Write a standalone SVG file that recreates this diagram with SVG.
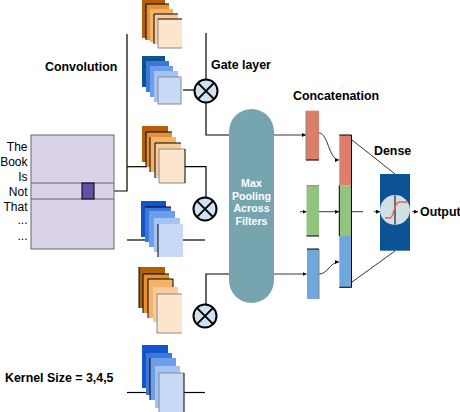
<svg xmlns="http://www.w3.org/2000/svg" width="460" height="412" viewBox="0 0 460 412">
<style>
text{font-family:"Liberation Sans",Arial,sans-serif;fill:#000}
.lbl{font-size:12.4px;font-weight:bold}
.word{font-size:12px;text-anchor:end}
.pool{font-size:10.7px;font-weight:bold;fill:#fff;text-anchor:middle}
.ln{fill:none;stroke:#000;stroke-width:1.2}
.thin{fill:none;stroke:#000;stroke-width:0.8}
.o1{fill:#B45F06}.o2{fill:#E69138}.o3{fill:#F6B26B}.o4{fill:#F9CB9C}.o5{fill:#FCE5CD}
.b0{fill:#0B5394}.b1{fill:#1155CC}.b2{fill:#3C78D8}.b3{fill:#6D9EEB}.b4{fill:#A4C2F4}.b5{fill:#C9DAF8}
.edge{fill:none;stroke:#000;stroke-width:1}
.gedge{fill:none;stroke:#888;stroke-width:1}
.gate circle{fill:#CFE2F3;stroke:#000;stroke-width:2}
.gate path{stroke:#000;stroke-width:2}
</style>
<defs>
<marker id="ah" viewBox="0 0 6 6" refX="6" refY="3" markerWidth="4" markerHeight="4" orient="auto" markerUnits="userSpaceOnUse">
<path d="M0,0 L6,3 L0,6 z" fill="#000"/>
</marker>
</defs>

<g id="connectors">
<path class="ln" d="M127,34 V191 H114"/>
<path class="ln" d="M127,166.7 H147"/>
<path class="ln" d="M127,240 H146"/>
<path class="ln" d="M127,392.5 H146"/>
<path class="ln" d="M183,90 H194"/>
<path class="ln" d="M206,33 V79"/>
<path class="ln" d="M206,103 V135 H230"/>
<path class="ln" d="M184,166.7 H206 V197"/>
<path class="ln" d="M183,240 H205"/>
<path class="ln" d="M206,304 V274 H230"/>
<path class="ln" d="M183,392.5 H205"/>
<path class="thin" d="M274,135 H306" marker-end="url(#ah)"/>
<path class="thin" d="M300,211.7 H306.5" marker-end="url(#ah)"/>
<path class="thin" d="M274,274 H306.5" marker-end="url(#ah)"/>
<path class="thin" d="M319,133 C328,133 329,160 339,160" marker-end="url(#ah)"/>
<path class="thin" stroke="#666" d="M319,211.7 H339" marker-end="url(#ah)"/>
<path class="thin" d="M319,274 C328,274 330,262 339,262" marker-end="url(#ah)"/>
<path class="thin" d="M352,140 L395,174"/>
<path class="thin" d="M352,282 L395,251"/>
<path class="thin" stroke="#888" d="M352,211.7 H363"/>
<path class="thin" d="M374,211.7 H380" marker-end="url(#ah)"/>
<path class="thin" d="M412,211.7 H418" marker-end="url(#ah)"/>
</g>

<g id="input-matrix">
<rect x="31" y="135" width="83" height="114" fill="#D9D2E9" stroke="#666" stroke-width="1"/>
<line x1="31" y1="183" x2="114" y2="183" stroke="#666" stroke-width="1"/>
<line x1="31" y1="199" x2="114" y2="199" stroke="#666" stroke-width="1"/>
<rect x="82" y="183" width="12" height="16" fill="#674EA7" stroke="#000" stroke-width="1"/>
<text class="word" x="27.5" y="150.7">The</text>
<text class="word" x="27.5" y="166">Book</text>
<text class="word" x="27.5" y="181.3">Is</text>
<text class="word" x="27.5" y="196">Not</text>
<text class="word" x="27.5" y="211">That</text>
<text class="word" x="27.5" y="224">...</text>
<text class="word" x="27.5" y="239.5">...</text>
</g>

<g id="conv-top-orange">
<rect class="o1" x="142" y="-1" width="23" height="39"/>
<rect class="o2" x="146" y="4" width="23" height="36"/>
<path class="edge" d="M146,40 V4 H169"/>
<rect class="o3" x="150" y="9" width="23" height="33"/>
<rect class="o4" x="154" y="14" width="24" height="30"/>
<path class="edge" d="M154,44 V14 H178"/>
<rect class="o5" x="158" y="19" width="24" height="29"/>
<path class="gedge" d="M182,48 H158 V19"/>
<path class="edge" d="M158,19 H182"/>
</g>

<g id="conv-top-blue">
<rect class="b0" x="142" y="56" width="23" height="31"/>
<rect class="b2" x="146" y="61" width="23" height="31"/>
<rect class="b3" x="150" y="66" width="23" height="31"/>
<rect class="b4" x="154" y="71" width="24" height="31"/>
<rect class="b5" x="158" y="77" width="23" height="27"/>
<rect class="gedge" x="158" y="77" width="23" height="27"/>
</g>

<g id="conv-mid-orange">
<rect class="o1" x="142" y="126" width="26" height="36"/>
<rect class="o2" x="146" y="132" width="26" height="35"/>
<path class="edge" d="M146,167 V132 H172"/>
<rect class="o3" x="150" y="137" width="26" height="35"/>
<path class="edge" d="M150,172 V137"/>
<rect class="o4" x="155" y="143" width="26" height="35"/>
<path class="edge" d="M155,178 V143 H181"/>
<rect class="o5" x="159" y="149" width="26" height="34"/>
<path class="gedge" d="M185,183 H159 V149 H185"/>
<path class="edge" d="M185,149 V183"/>
</g>

<g id="conv-mid-blue">
<rect class="b1" x="141" y="201" width="25" height="36"/>
<rect class="b2" x="145" y="207" width="26" height="35"/>
<path class="edge" d="M145,207 H171"/>
<rect class="b3" x="149" y="211" width="26" height="36"/>
<rect class="b4" x="154" y="218" width="26" height="34"/>
<rect class="b5" x="158" y="224" width="25" height="33"/>
<path class="edge" d="M158,224 V257"/>
</g>

<g id="conv-bot-orange">
<rect class="o1" x="139" y="267" width="26" height="41"/>
<path class="edge" d="M139,308 V267"/>
<rect class="o2" x="143" y="274" width="26" height="39"/>
<path class="edge" d="M143,313 V274 H169"/>
<rect class="o3" x="148" y="279" width="25" height="39"/>
<path class="edge" d="M148,318 V279 H173 V287"/>
<rect class="o4" x="153" y="287" width="25" height="35"/>
<rect class="o5" x="157" y="294" width="25" height="39"/>
<path class="gedge" d="M182,333 H157 V294 H182"/>
</g>

<g id="conv-bot-blue">
<rect class="b1" x="142" y="345" width="26" height="43"/>
<rect class="b2" x="146" y="353" width="26" height="42"/>
<rect class="b3" x="150" y="358" width="26" height="42"/>
<path class="edge" d="M150,400 V358"/>
<rect class="b4" x="155" y="366" width="25" height="42"/>
<rect class="b5" x="159" y="373" width="25" height="45"/>
<path class="gedge" d="M159,418 V373 H184"/>
<path class="edge" d="M184,373 V418"/>
</g>

<g id="gate-top" class="gate">
<circle cx="206" cy="91" r="11.5"/>
<path d="M197.9,82.9 L214.1,99.1 M214.1,82.9 L197.9,99.1"/>
</g>
<g id="gate-mid" class="gate">
<circle cx="205" cy="209" r="11.5"/>
<path d="M196.9,200.9 L213.1,217.1 M213.1,200.9 L196.9,217.1"/>
</g>
<g id="gate-bot" class="gate">
<circle cx="205" cy="316" r="11.5"/>
<path d="M196.9,307.9 L213.1,324.1 M213.1,307.9 L196.9,324.1"/>
</g>

<g id="max-pooling">
<rect x="229" y="109" width="45" height="194" rx="22.5" ry="22.5" fill="#76A5AF"/>
<text class="pool" x="251.5" y="186.5">Max</text>
<text class="pool" x="251.5" y="200">Pooling</text>
<text class="pool" x="251.5" y="212.3">Across</text>
<text class="pool" x="251.5" y="224.7">Filters</text>
</g>

<g id="pooled-red">
<rect x="306" y="110.7" width="13" height="49.5" fill="#DD7E6B"/>
<path class="gedge" d="M306,110.7 V160"/>
<path class="edge" d="M306,160 H319"/>
</g>
<g id="pooled-green">
<rect x="306.5" y="185.7" width="12.5" height="50.3" fill="#93C47D"/>
<path class="edge" d="M306.5,236 H319"/>
<path class="gedge" d="M306.5,185.7 H319"/>
</g>
<g id="pooled-blue">
<rect x="307" y="249" width="12" height="50" fill="#6FA8DC"/>
<path class="edge" d="M307,249 H319"/>
<path class="gedge" d="M319,249 V299"/>
</g>

<g id="concat">
<rect x="339.3" y="135" width="12.2" height="50.3" fill="#DD7E6B"/>
<rect x="339.3" y="185.3" width="12.2" height="50.7" fill="#93C47D"/>
<rect x="339.3" y="236" width="12.2" height="51.3" fill="#6FA8DC"/>
<path class="edge" d="M339.3,135 H351.5 V287.3 H339.3"/>
<path class="edge" d="M339.3,185.3 V236"/>
</g>

<g id="dense">
<rect x="380" y="174" width="30" height="76.7" fill="#0B5394"/>
<circle cx="395" cy="210" r="15" fill="#D0E0E3"/>
<line x1="395" y1="195.5" x2="395" y2="224.5" stroke="#000" stroke-width="1"/>
<path d="M385,218 L390,218 C394,218 394,202 399,202 L408,202" fill="none" stroke="#E06666" stroke-width="1.5"/>
</g>

<g id="labels">
<text class="lbl" x="45" y="70.5">Convolution</text>
<text class="lbl" x="211" y="69">Gate layer</text>
<text class="lbl" x="293" y="99.5">Concatenation</text>
<text class="lbl" x="374" y="155">Dense</text>
<text class="lbl" x="420" y="216">Output</text>
<text class="lbl" x="5" y="381.5">Kernel Size = 3,4,5</text>
</g>
</svg>
